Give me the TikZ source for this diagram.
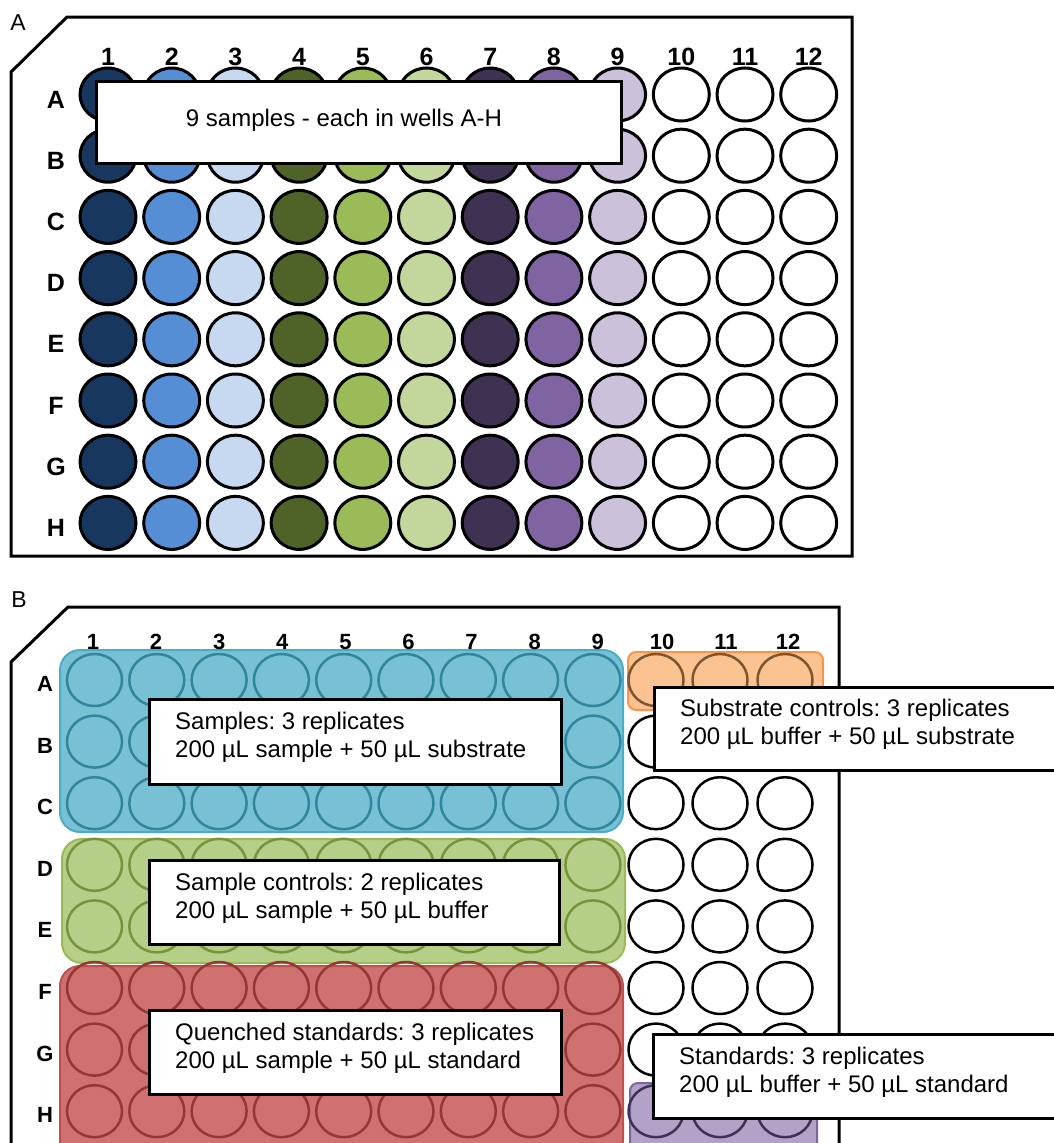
\documentclass[tikz,border=0pt]{standalone}
\usepackage{fontspec}
\setmainfont{Liberation Sans}
\usepackage{tikz}
\usetikzlibrary{calc}
\frenchspacing
\definecolor{wellOne}{HTML}{17375E}
\definecolor{wellTwo}{HTML}{558ED5}
\definecolor{wellThree}{HTML}{C6D9F1}
\definecolor{wellFour}{HTML}{4F6228}
\definecolor{wellFive}{HTML}{9BBB59}
\definecolor{wellSix}{HTML}{C3D69B}
\definecolor{wellSeven}{HTML}{3F3151}
\definecolor{wellEight}{HTML}{8064A2}
\definecolor{wellNine}{HTML}{CCC1DA}
\definecolor{blueFill}{HTML}{78C0D4}
\definecolor{blueLine}{HTML}{4BACC6}
\definecolor{blueWell}{HTML}{31859C}
\definecolor{greenFill}{HTML}{B5CE88}
\definecolor{greenLine}{HTML}{9BBB59}
\definecolor{greenWell}{HTML}{77933C}
\definecolor{redFill}{HTML}{CF7170}
\definecolor{redLine}{HTML}{C0504D}
\definecolor{redWell}{HTML}{953735}
\definecolor{orangeFill}{HTML}{FAC391}
\definecolor{orangeLine}{HTML}{F79646}
\definecolor{orangeWell}{HTML}{7F5530}
\definecolor{purpleFill}{HTML}{B3A2C7}
\definecolor{purpleLine}{HTML}{8064A2}
\definecolor{purpleWell}{HTML}{3F3151}
\tikzstyle{plate}=[line width=3pt, line join=miter]
\tikzstyle{wellA}=[line width=3pt, draw=black]
\tikzstyle{wellB}=[line width=2.5pt]
\tikzstyle{textbox}=[draw, line width=2.5pt, fill=white, anchor=north west]
\tikzstyle{notetext}=[font=\fontsize{24}{28}\selectfont, align=left, inner sep=0pt]
\tikzstyle{panellabel}=[font=\fontsize{23}{23}\selectfont]
\tikzstyle{headA}=[font=\bfseries\fontsize{25}{25}\selectfont]
\tikzstyle{headB}=[font=\bfseries\fontsize{22}{22}\selectfont]
\newcommand{\groupBox}[4]{
	\draw[line width=2pt, rounded corners=#4, fill=#1Fill, draw=#1Line] #2 rectangle #3;
}

\begin{document}
\begin{tikzpicture}[x=1pt, y=-1pt]
	\useasboundingbox (0,0) rectangle (1054,1143);
	% panel A
	\node[panellabel] (labA) at (18,23) {A};
	\draw[plate] (67,17) -- (852,17) -- (852,556) -- (11,556) -- (11,72) -- cycle;
	\foreach \c/\col in {1/wellOne,2/wellTwo,3/wellThree,4/wellFour,5/wellFive,6/wellSix,7/wellSeven,8/wellEight,9/wellNine,10/white,11/white,12/white}{
		\node[headA] (colA\c) at ({108+63.7*(\c-1)},57) {\c};
		\foreach \r in {0,...,7}
			\draw[wellA, fill=\col] ({108+63.7*(\c-1)},{94.5+61.2*\r}) ellipse (28 and 26.5);
	}
	\foreach \r [count=\i from 0] in {A,...,H}
		\node[headA] (rowA\r) at (56,{99.5+61.2*\i}) {\r};
	\node[textbox, minimum width=525pt, minimum height=82pt] (boxA) at (95,80) {};
	\node[notetext] (noteA) at (344,120) {9 samples - each in wells A-H};
	% panel B
	\node[panellabel] (labB) at (19,600) {B};
	\draw[plate] (11,1160) -- (11,662) -- (68,607) -- (839,607) -- (839,1160);
	\groupBox{blue}{(60,650)}{(623,832)}{20pt}
	\groupBox{green}{(62,839)}{(625,963)}{20pt}
	\groupBox{red}{(60,966)}{(623,1160)}{20pt}
	\groupBox{orange}{(628,652)}{(823,710)}{8pt}
	\groupBox{purple}{(630,1083)}{(817,1160)}{8pt}
	\foreach \c in {1,...,9}{
		\node[headB] (colB\c) at ({93+63.1*(\c-1)},642) {\c};
		\foreach \r/\col in {0/blueWell,1/blueWell,2/blueWell,3/greenWell,4/greenWell,5/redWell,6/redWell,7/redWell}
			\draw[wellB, draw=\col] ({94.5+62.3*(\c-1)},{680+61.6*\r}) ellipse (27.5 and 26);
	}
	\foreach \c/\x/\lx in {10/656/662,11/720/726,12/785/788}{
		\node[headB] (colB\c) at (\lx,642) {\c};
		\draw[wellB, draw=orangeWell] (\x,680) ellipse (27.5 and 26);
		\foreach \r in {1,...,6}
			\draw[wellB, draw=black, fill=white] (\x,{680+61.6*\r}) ellipse (27.5 and 26);
		\draw[wellB, draw=purpleWell] (\x,{680+61.6*7}) ellipse (27.5 and 26);
	}
	\foreach \r [count=\i from 0] in {A,...,H}
		\node[headB] (rowB\r) at (45,{684+61.6*\i}) {\r};
	% note boxes
	\node[textbox, minimum width=412pt, minimum height=85pt] (sampBox) at (148,698) {};
	\node[textbox, minimum width=420pt, minimum height=83pt] (substBox) at (653,686) {};
	\node[textbox, minimum width=410pt, minimum height=84pt] (ctrlBox) at (148,859) {};
	\node[textbox, minimum width=412pt, minimum height=84pt] (quenchBox) at (148,1009) {};
	\node[textbox, minimum width=420pt, minimum height=84pt] (stdBox) at (652,1033) {};
	\node[notetext, anchor=west] (sampText) at ($(sampBox.west)+(27,-4)$) {Samples: 3 replicates\\200 µL sample + 50 µL substrate};
	\node[notetext, anchor=west] (substText) at ($(substBox.west)+(27,-4)$) {Substrate controls: 3 replicates\\200 µL buffer + 50 µL substrate};
	\node[notetext, anchor=west] (ctrlText) at ($(ctrlBox.west)+(27,-4)$) {Sample controls: 2 replicates\\200 µL sample + 50 µL buffer};
	\node[notetext, anchor=west] (quenchText) at ($(quenchBox.west)+(27,-4)$) {Quenched standards: 3 replicates\\200 µL sample + 50 µL standard};
	\node[notetext, anchor=west] (stdText) at ($(stdBox.west)+(27,-4)$) {Standards: 3 replicates\\200 µL buffer + 50 µL standard};
\end{tikzpicture}
\end{document}
